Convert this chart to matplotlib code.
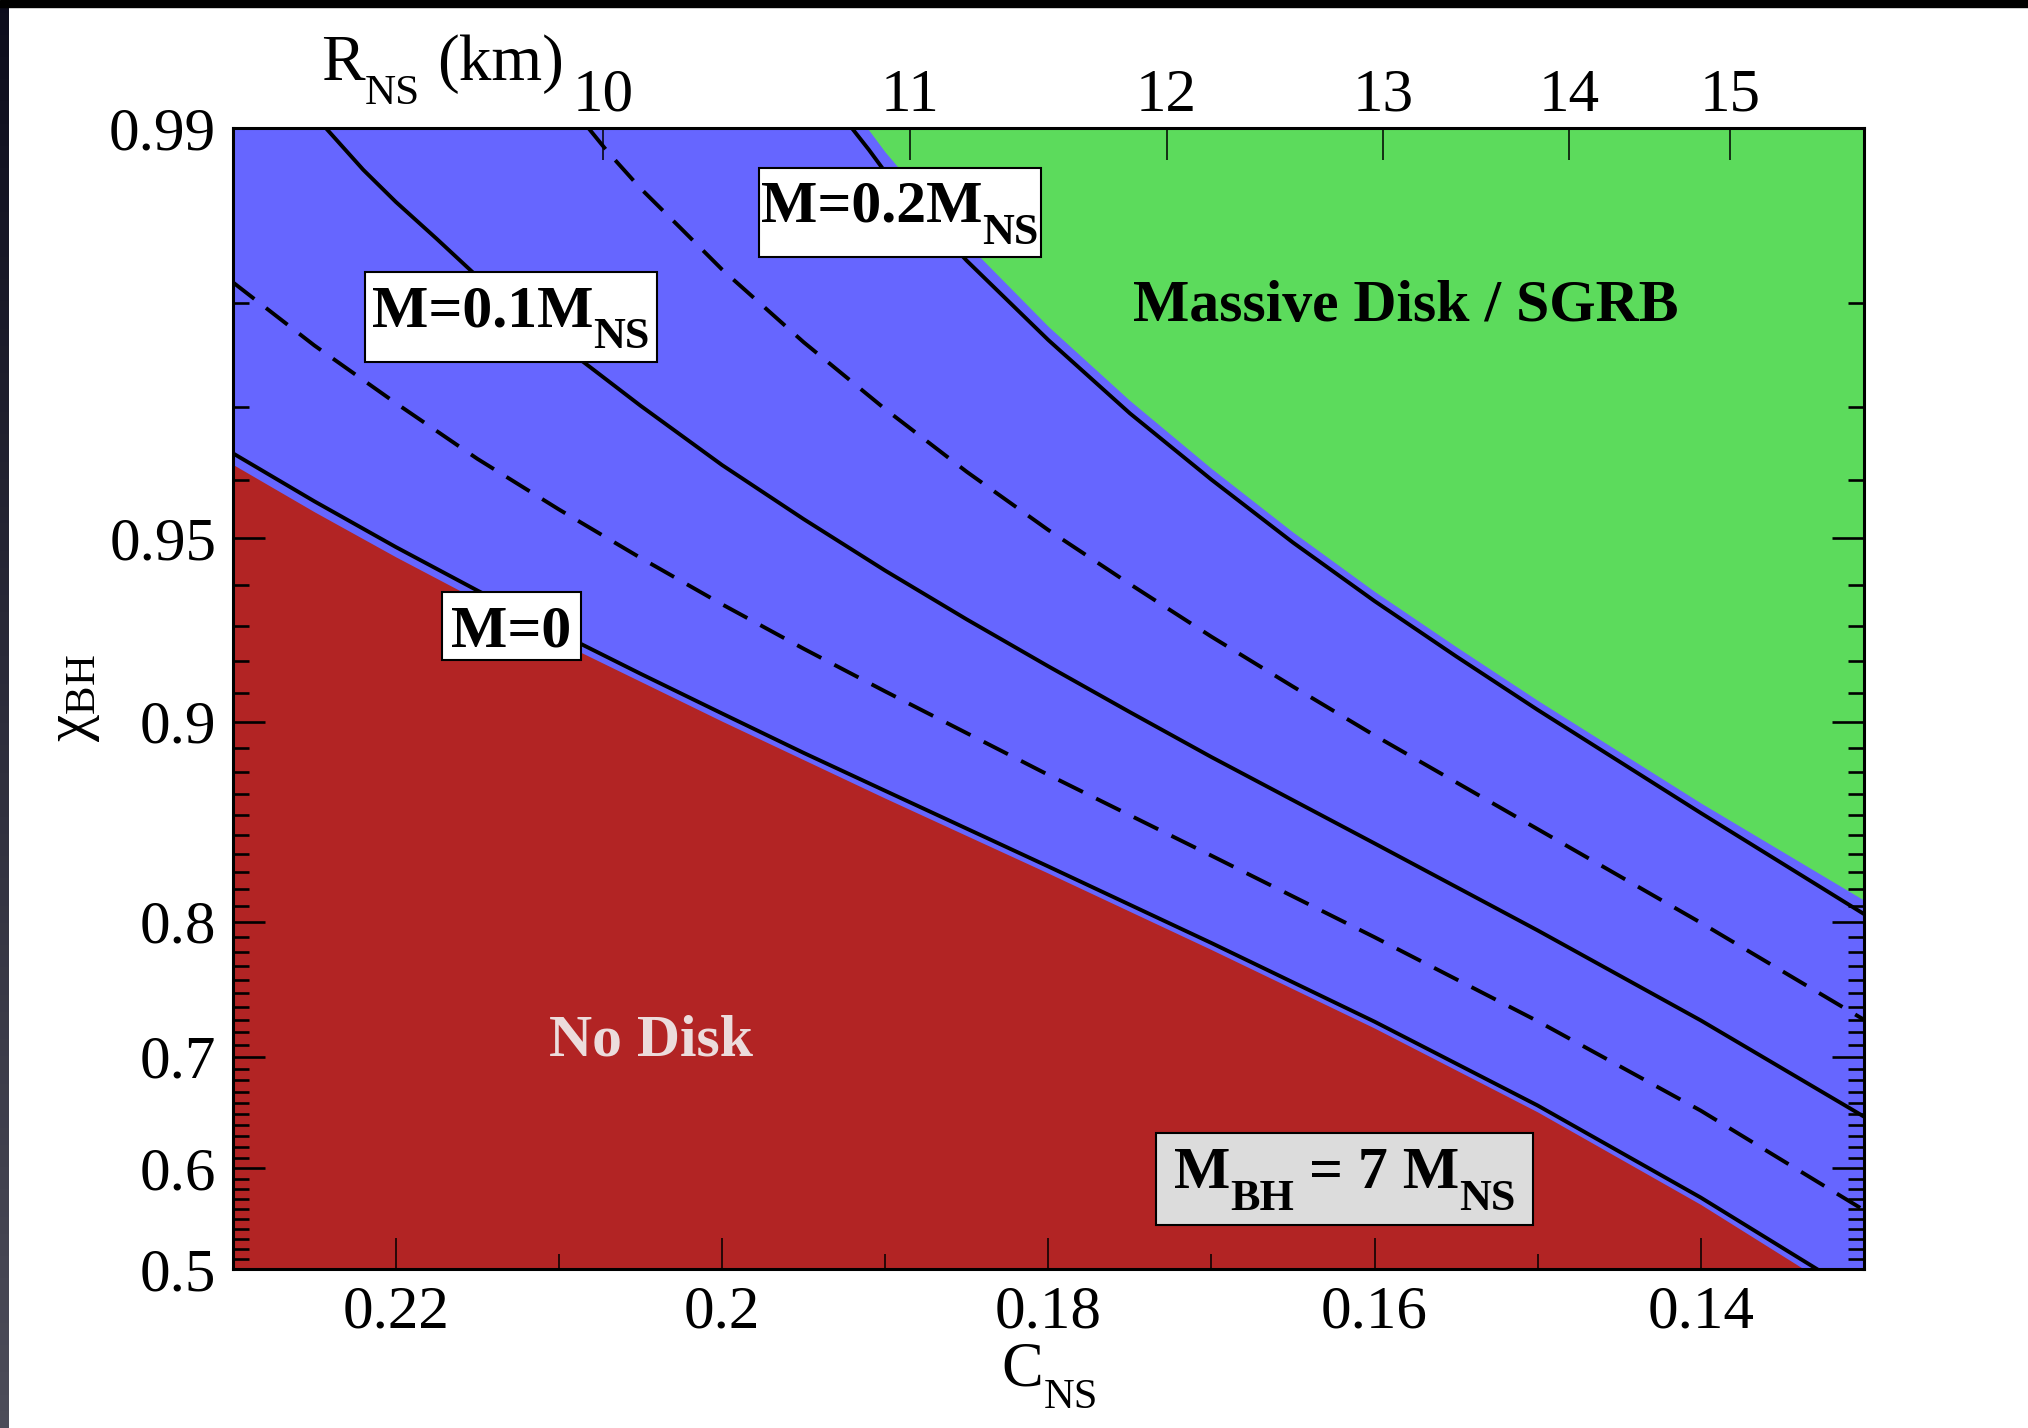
import numpy as np
import matplotlib
matplotlib.use('Agg')
import matplotlib.pyplot as plt
from matplotlib.patches import Rectangle
from matplotlib.transforms import offset_copy

plt.rcParams['font.family'] = ['Liberation Serif', 'DejaVu Serif']
plt.rcParams['mathtext.fontset'] = 'custom'
plt.rcParams['mathtext.rm'] = 'Liberation Serif'
plt.rcParams['mathtext.it'] = 'Liberation Serif:italic'
plt.rcParams['mathtext.bf'] = 'Liberation Serif:bold'

# ---------------- data ----------------
# disk-mass contours, M_BH = 7 M_NS
c_m000 = [0.23, 0.225, 0.22, 0.215, 0.21, 0.205, 0.20, 0.195, 0.19, 0.18, 0.17, 0.16, 0.15, 0.14, 0.1329]
chi_m000 = [0.9640, 0.9566, 0.9482, 0.9388, 0.9281, 0.9162, 0.9029, 0.8879, 0.8716, 0.8332, 0.7859,
            0.7284, 0.6580, 0.5717, 0.50]

c_m005 = [0.23, 0.225, 0.22, 0.215, 0.21, 0.205, 0.20, 0.195, 0.19, 0.18, 0.17, 0.16, 0.15, 0.14, 0.13]
chi_m005 = [0.9816, 0.9764, 0.9704, 0.9632, 0.9552, 0.9460, 0.9355, 0.9237, 0.9105, 0.8787, 0.8392,
            0.7898, 0.7288, 0.6534, 0.5594]

c_m010 = [0.2243, 0.222, 0.22, 0.2175, 0.215, 0.21, 0.205, 0.20, 0.195, 0.19, 0.185, 0.18, 0.175,
          0.17, 0.16, 0.15, 0.14, 0.13]
chi_m010 = [0.99, 0.9882, 0.9866, 0.9845, 0.9820, 0.9766, 0.9701, 0.9623, 0.9535, 0.9433, 0.9317,
            0.9185, 0.9034, 0.8862, 0.8458, 0.7943, 0.7294, 0.6481]

c_m015 = [0.2082, 0.207, 0.205, 0.2025, 0.20, 0.195, 0.19, 0.185, 0.18, 0.175, 0.17, 0.165, 0.16,
          0.15, 0.14, 0.13]
chi_m015 = [0.99, 0.9890, 0.9873, 0.9851, 0.9825, 0.9767, 0.9697, 0.9613, 0.9515, 0.9403, 0.9271,
            0.9121, 0.8948, 0.8532, 0.7993, 0.7300]

c_m020 = [0.19205, 0.191, 0.19, 0.1875, 0.185, 0.18, 0.175, 0.17, 0.165, 0.16, 0.155, 0.15, 0.14, 0.13]
chi_m020 = [0.99, 0.9891, 0.9881, 0.9858, 0.9831, 0.9769, 0.9692, 0.9601, 0.9491, 0.9363, 0.9215,
            0.9042, 0.8612, 0.8049]

# region boundaries
c_nodisk = [0.23, 0.225, 0.22, 0.215, 0.21, 0.20, 0.19, 0.18, 0.17, 0.16, 0.15, 0.14, 0.1337]
chi_nodisk = [0.9624, 0.9548, 0.9462, 0.9366, 0.9257, 0.9001, 0.8682, 0.8294, 0.7814, 0.7233,
              0.6522, 0.5649, 0.50]

c_massive = [0.1911, 0.19, 0.1875, 0.185, 0.18, 0.175, 0.17, 0.165, 0.16, 0.155, 0.15, 0.14, 0.13]
chi_massive = [0.99, 0.9890, 0.9867, 0.9842, 0.9781, 0.9707, 0.9618, 0.9511, 0.9386, 0.9243,
               0.9075, 0.8660, 0.8135]

# axis ticks
x_major = [0.14, 0.16, 0.18, 0.20, 0.22]
x_major_labels = ['0.14', '0.16', '0.18', '0.2', '0.22']
x_minor = [0.13, 0.15, 0.17, 0.19, 0.21, 0.23]
y_major = [0.5, 0.6, 0.7, 0.8, 0.9, 0.95, 0.99]
y_major_labels = ['0.5', '0.6', '0.7', '0.8', '0.9', '0.95', '0.99']
r_ticks = [10, 11, 12, 13, 14, 15]
r_tick_labels = ['10', '11', '12', '13', '14', '15']
RC_KM = 2.073   # R_NS [km] * C_NS  (M_NS = 1.4 Msun)

# ---------------- y scale (spin axis) ----------------
def _h(L):
    return 0.221 * L + 0.1367 * (1.0 - np.exp(-1.5 * L))

def fwd(chi):
    chi = np.asarray(chi, dtype=float)
    u = np.clip(1.0 - chi, 1e-9, None)
    return _h(np.log(0.5 / u))

_Lg = np.linspace(-6, 20, 40001)
_hg = _h(_Lg)

def inv(y):
    y = np.asarray(y, dtype=float)
    L = np.interp(y, _hg, _Lg)
    return 1.0 - 0.5 * np.exp(-L)

# ---------------- figure ----------------
W, H = 2028, 1428
fig = plt.figure(figsize=(W / 100, H / 100), dpi=100)
fig.patch.set_facecolor('white')
renderer = fig.canvas.get_renderer()


def rich_text(host, x, y, pieces, transform, size, weight='normal', color='k',
              ha='center', zorder=5, sub_scale=0.74, drop=0.37):
    """pieces: list of (text, kind) with kind 'n' normal, 's' subscript, or
    (gap_em, 'g') horizontal gap."""
    px_pt = fig.dpi / 72.0
    widths = []
    for s, k in pieces:
        if k == 'g':
            widths.append(s * size * px_pt)
            continue
        fs = size * sub_scale if k == 's' else size
        t = fig.text(0, 0, s, fontsize=fs, fontweight=weight)
        widths.append(t.get_window_extent(renderer).width)
        t.remove()
    total = sum(widths)
    x0 = -total / 2 if ha == 'center' else 0.0
    for (s, k), w in zip(pieces, widths):
        if k != 'g':
            fs = size * sub_scale if k == 's' else size
            dy = -drop * size * px_pt if k == 's' else 0.0
            tr = offset_copy(transform, fig=fig, x=x0, y=dy, units='dots')
            host.text(x, y, s, transform=tr, fontsize=fs, fontweight=weight,
                      color=color, ha='left', va='baseline', zorder=zorder)
        x0 += w


ax = fig.add_axes([232.8 / W, 1 - 1268.8 / H, 1631 / W, 1140.8 / H])
ax.set_facecolor('#6666ff')
ax.set_yscale('function', functions=(fwd, inv))
ax.set_xlim(0.23, 0.13)
ax.set_ylim(0.5, 0.99)

ax.fill_between(c_nodisk, chi_nodisk, 0.5, color='#b22424', lw=0, zorder=1)
ax.fill_between(c_massive, chi_massive, 0.99, color='#5cdb5c', lw=0, zorder=1)

lw = 2.8
ax.plot(c_m000, chi_m000, color='k', lw=lw, zorder=3, solid_joinstyle='round')
ax.plot(c_m010, chi_m010, color='k', lw=lw, zorder=3, solid_joinstyle='round')
ax.plot(c_m020, chi_m020, color='k', lw=lw, zorder=3, solid_joinstyle='round')
ax.plot(c_m005, chi_m005, color='k', lw=lw, dashes=(7, 3.8), zorder=3)
ax.plot(c_m015, chi_m015, color='k', lw=lw, dashes=(7, 3.8), zorder=3)

# ticks
ax.set_xticks(x_major)
ax.set_xticklabels(x_major_labels)
ax.set_xticks(x_minor, minor=True)
ax.set_yticks(y_major)
ax.set_yticklabels(y_major_labels)
y_minor = [round(0.5 + 0.01 * i, 2) for i in range(1, 49)]
y_minor = [v for v in y_minor if v not in y_major]
ax.set_yticks(y_minor, minor=True)

ax.tick_params(axis='y', which='both', direction='in', left=True, right=True,
               labelsize=44, pad=12)
ax.tick_params(axis='y', which='major', length=23, width=1.9)
ax.tick_params(axis='y', which='minor', length=11.5, width=1.9)
ax.tick_params(axis='x', which='both', direction='in', bottom=True, top=False,
               labelsize=44, pad=12)
ax.tick_params(axis='x', which='major', length=22, width=1.1)
ax.tick_params(axis='x', which='minor', length=11, width=1.1)
for sp in ax.spines.values():
    sp.set_linewidth(2.2)
    sp.set_zorder(6)

ax_top = ax.twiny()
ax_top.set_xlim(ax.get_xlim())
ax_top.set_xticks([RC_KM / r for r in r_ticks])
ax_top.set_xticklabels(r_tick_labels)
ax_top.tick_params(axis='x', which='major', direction='in', length=23, width=1.1,
                   labelsize=44, pad=3)
ax_top.tick_params(axis='x', which='minor', top=False, bottom=False)
for sp in ax_top.spines.values():
    sp.set_visible(False)

# axis labels
rich_text(ax, 0.501, -0.1019, [('C', 'n'), ('NS', 's')], ax.transAxes, 45,
          sub_scale=0.68, drop=0.36)
ax.text(-0.097, 0.50, r'$\mathregular{χ_{BH}}$', transform=ax.transAxes,
        ha='center', va='center', rotation=90, fontsize=44)
rich_text(fig, 321 / W, 1 - 80 / H, [('R', 'n'), ('NS', 's'), (0.26, 'g'), ('(km)', 'n')],
          fig.transFigure, 47, ha='left', sub_scale=0.66, drop=0.36)

# annotation boxes (axes-fraction rectangles)
def box(x0, x1, y0, y1, fc):
    ax.add_patch(Rectangle((x0, y0), x1 - x0, y1 - y0, transform=ax.transAxes,
                           fc=fc, ec='black', lw=1.5, zorder=4))

FS = 43
box(0.3226, 0.4955, 0.8869, 0.9649, 'white')
rich_text(ax, 0.4091, 0.9180, [('M=0.2M', 'n'), ('NS', 's')], ax.transAxes, FS, weight='bold')
box(0.0811, 0.2601, 0.7949, 0.8738, 'white')
rich_text(ax, 0.1706, 0.8262, [('M=0.1M', 'n'), ('NS', 's')], ax.transAxes, FS, weight='bold')
box(0.1283, 0.2135, 0.5337, 0.5933, 'white')
rich_text(ax, 0.1709, 0.5453, [('M=0', 'n')], ax.transAxes, FS, weight='bold')
box(0.5660, 0.7972, 0.0384, 0.1190, '#dcdcdc')
rich_text(ax, 0.6816, 0.0708, [('M', 'n'), ('BH', 's'), (0.25, 'g'), ('= 7 M', 'n'), ('NS', 's')],
          ax.transAxes, FS, weight='bold')

ax.text(0.7193, 0.831, 'Massive Disk / SGRB', transform=ax.transAxes,
        ha='center', va='baseline', fontsize=FS, fontweight='bold', color='black', zorder=5)
ax.text(0.2564, 0.1871, 'No Disk', transform=ax.transAxes,
        ha='center', va='baseline', fontsize=FS, fontweight='bold', color='#ecdcdc', zorder=5)

# slide frame: black strip on top, dark gradient strip on the left
fig.add_artist(Rectangle((0, 1 - 7 / H), 1, 7 / H, transform=fig.transFigure,
                         color='black', zorder=20))
sax = fig.add_axes([0, 0, 9 / W, 1 - 7 / H])
grad = np.linspace(0, 1, 256)[:, None]
top_c = np.array([0.05, 0.05, 0.11])
bot_c = np.array([0.30, 0.30, 0.35])
img = (top_c[None, None, :] * (1 - grad[..., None]) + bot_c[None, None, :] * grad[..., None])
sax.imshow(img, aspect='auto', extent=[0, 1, 0, 1], origin='upper')
sax.set_axis_off()

fig.savefig('out.png', dpi=100)
